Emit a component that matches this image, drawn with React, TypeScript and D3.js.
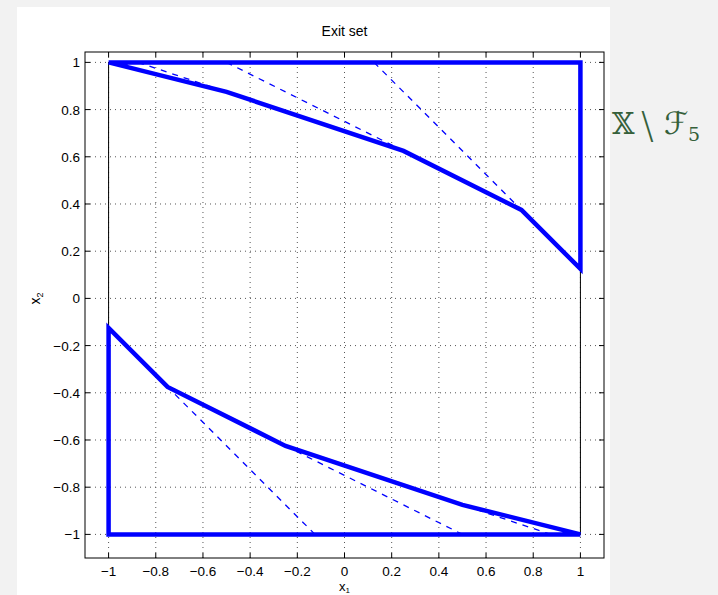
import React from 'react';
import * as d3 from 'd3';

// tick values shared by both axes
const tickValues = [-1, -0.8, -0.6, -0.4, -0.2, 0, 0.2, 0.4, 0.6, 0.8, 1];

// outer constraint set (thin black)
const boxX = [-1, 1, 1, -1, -1];
const boxY = [-1, -1, 1, 1, -1];

// exit set, upper piece (thick)
const upperX = [-1, 1, 1, 0.75, 0.25, -0.5, -1];
const upperY = [1, 1, 0.125, 0.375, 0.625, 0.875, 1];

// exit set, lower piece (thick)
const lowerX = [1, -1, -1, -0.75, -0.25, 0.5, 1];
const lowerY = [-1, -1, -0.125, -0.375, -0.625, -0.875, -1];

// dashed segments: start and end points
const dashX0 = [0.125, -0.5, -0.875, -0.125, 0.5, 0.875];
const dashY0 = [1, 1, 1, -1, -1, -1];
const dashX1 = [0.75, 0.25, -0.5, -0.75, -0.25, 0.5];
const dashY1 = [0.375, 0.625, 0.875, -0.375, -0.625, -0.875];

const W = 718;
const H = 595;
const left = 85, right = 604, top = 52, bottom = 558;
const font = '"Liberation Sans", Arial, Helvetica, sans-serif';

export default function App() {
  const x = d3.scaleLinear().domain([-1.1, 1.1]).range([left, right]);
  const y = d3.scaleLinear().domain([-1.1, 1.044]).range([bottom, top]);

  const line = d3.line<[number, number]>()
    .x(d => x(d[0]))
    .y(d => y(d[1]));

  const zip = (xs: number[], ys: number[]) => xs.map((v, i) => [v, ys[i]] as [number, number]);
  const fmt = (v: number) => (Math.abs(v) < 1e-9 ? '0' : String(+v.toFixed(1)).replace('-', '\u2212'));

  return (
    <svg width={W} height={H} style={{ position: 'absolute', left: 0, top: 0 }}>
      <rect x={0} y={0} width={W} height={H} fill="#f2f2f2" />
      <rect x={17} y={7} width={593} height={H - 7} fill="#ffffff" />

      {/* grid */}
      <g stroke="#555" strokeWidth={1} strokeDasharray="1 4">
        {tickValues.map(t => (
          <line key={'gx' + t} x1={x(t)} x2={x(t)} y1={bottom} y2={top} />
        ))}
        {tickValues.map(t => (
          <line key={'gy' + t} x1={left} x2={right} y1={y(t)} y2={y(t)} />
        ))}
      </g>

      {/* ticks */}
      <g stroke="#000" strokeWidth={1}>
        {tickValues.map(t => (
          <g key={'t' + t}>
            <line x1={x(t)} x2={x(t)} y1={bottom} y2={bottom - 5} />
            <line x1={x(t)} x2={x(t)} y1={top} y2={top + 5} />
            <line x1={left} x2={left + 5} y1={y(t)} y2={y(t)} />
            <line x1={right} x2={right - 5} y1={y(t)} y2={y(t)} />
          </g>
        ))}
      </g>

      <rect x={left} y={top} width={right - left} height={bottom - top} fill="none" stroke="#000" strokeWidth={1} />

      {/* tick labels */}
      <g fontFamily={font} fontSize={13.5} fill="#000">
        {tickValues.map(t => (
          <text key={'lx' + t} x={x(t)} y={576} textAnchor="middle">{fmt(t)}</text>
        ))}
        {tickValues.map(t => (
          <text key={'ly' + t} x={left - 5} y={y(t) + 5} textAnchor="end">{fmt(t)}</text>
        ))}
      </g>

      {/* outer set */}
      <path d={line(zip(boxX, boxY)) || ''} fill="none" stroke="#000" strokeWidth={1} />

      {/* dashed segments */}
      <g stroke="#0000ff" strokeWidth={1.3} strokeDasharray="6 6" fill="none">
        {dashX0.map((v, i) => (
          <path key={'d' + i} d={line([[v, dashY0[i]], [dashX1[i], dashY1[i]]]) || ''} />
        ))}
      </g>

      {/* exit set */}
      <g stroke="#0000ff" strokeWidth={4.5} fill="none" strokeLinejoin="miter">
        <path d={line(zip(upperX, upperY)) || ''} />
        <path d={line(zip(lowerX, lowerY)) || ''} />
      </g>

      {/* title and axis labels */}
      <text x={(left + right) / 2} y={36} textAnchor="middle" fontFamily={font} fontSize={14}>Exit set</text>
      <text x={x(0)} y={591} textAnchor="middle" fontFamily={font} fontSize={13}>
        x<tspan fontSize={8} dy={2}>1</tspan>
      </text>
      <text transform={`translate(40,${y(0)}) rotate(-90)`} textAnchor="middle" fontFamily={font} fontSize={14}>
        x<tspan fontSize={9} dy={3}>2</tspan>
      </text>

      {/* set label on the right */}
      <text x={612} y={134} fontFamily='"DejaVu Serif", "DejaVu Sans", serif' fontSize={29} fill="#35603a">
        {'\u{1D54F}'}
        <tspan x={641} y={138} fontSize={38} fontFamily='"DejaVu Sans", sans-serif' fontWeight={200}>\</tspan>
        <tspan x={664} y={134} fontStyle="italic" fontSize={31}>{'\u2131'}</tspan>
        <tspan x={688} y={141} fontSize={19}>5</tspan>
      </text>
    </svg>
  );
}
